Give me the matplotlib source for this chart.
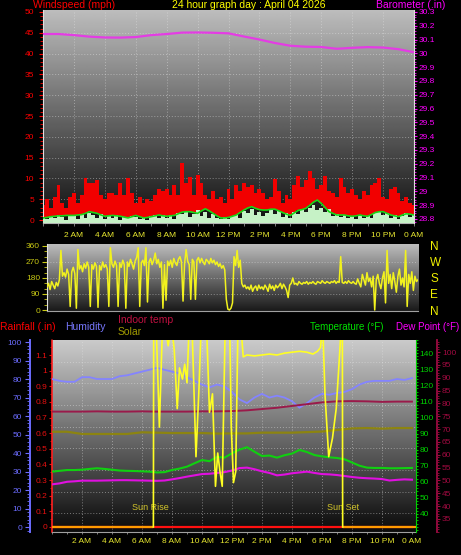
import numpy as np
import matplotlib
matplotlib.use('Agg')
import matplotlib.pyplot as plt
from matplotlib.ticker import MultipleLocator, FixedLocator, FuncFormatter

plt.rcParams['font.family'] = ['Liberation Sans', 'DejaVu Sans']

W, H = 461, 555

# wind, 15 minute samples (mph)
hours_q = np.linspace(0, 24, 97)
gust_mph = [3.5, 5.0, 3.0, 5.5, 8.5, 4.0, 3.0, 5.5, 6.5, 4.0, 6.0, 10.0,
            8.8, 8.8, 9.5, 6.0, 5.0, 6.5, 6.5, 6.0, 8.8, 6.0, 10.2, 6.5,
            4.0, 5.5, 4.0, 5.0, 4.5, 6.0, 7.5, 7.0, 7.5, 6.0, 8.5, 6.0,
            13.6, 9.0, 10.3, 6.0, 10.8, 8.8, 6.0, 5.0, 7.0, 5.0, 5.5, 4.0,
            7.5, 5.0, 8.5, 7.0, 9.0, 8.0, 8.5, 6.5, 7.5, 6.5, 5.0, 5.5,
            9.8, 7.0, 4.0, 6.0, 5.0, 8.5, 10.5, 8.0, 9.5, 11.8, 10.0, 7.5,
            8.5, 10.5, 7.0, 6.5, 5.5, 10.0, 8.0, 6.5, 7.5, 6.0, 5.0, 7.0,
            6.0, 8.5, 9.0, 10.0, 5.5, 5.0, 7.5, 8.0, 6.5, 4.5, 5.5, 4.0, 3.5]
avg_mph = [0.5, 0.6, 0.8, 0.9, 1.0, 1.0, 1.1, 1.1, 1.1, 1.2, 1.3, 1.6,
           2.0, 1.8, 1.6, 1.2, 0.9, 1.0, 1.1, 1.0, 0.9, 0.7, 0.5, 0.8,
           1.1, 0.8, 0.5, 0.6, 0.8, 1.0, 1.2, 1.0, 0.9, 1.0, 1.1, 1.5,
           1.9, 2.0, 2.0, 1.8, 1.6, 2.2, 2.7, 2.2, 1.6, 1.0, 0.5, 0.5,
           0.6, 0.9, 1.2, 1.8, 2.4, 2.9, 3.2, 2.8, 2.5, 2.4, 2.4, 2.6,
           2.6, 2.2, 1.8, 1.4, 1.1, 1.7, 2.3, 2.5, 2.8, 3.5, 4.3, 4.8,
           4.0, 3.0, 2.0, 1.6, 1.2, 1.2, 1.2, 1.0, 0.9, 1.0, 1.2, 1.0,
           0.9, 1.3, 1.8, 2.0, 2.0, 1.6, 1.2, 1.0, 0.8, 1.2, 1.5, 1.4, 1.2]
speed_mph = [0.6, 0.2, 1.0, 0.4, 1.3, 0.7, 0.0, 1.2, 0.9, 0.3, 1.5, 0.5,
             1.8, 1.1, 0.6, 1.4, 0.2, 0.9, 0.5, 1.2, 0.0, 0.8, 0.4, 1.0,
             0.7, 0.2, 0.5, 0.0, 0.9, 1.3, 0.4, 1.1, 0.6, 1.2, 0.3, 1.6,
             1.4, 2.0, 0.8, 1.5, 2.3, 1.0, 2.0, 0.6, 1.4, 0.5, 0.2, 0.8,
             0.3, 0.9, 1.2, 0.5, 2.2, 1.6, 2.6, 1.2, 2.0, 0.9, 1.8, 2.4,
             1.5, 2.2, 0.8, 1.6, 0.6, 2.0, 1.4, 2.6, 2.0, 2.8, 3.6, 2.4,
             3.0, 2.0, 2.6, 1.0, 1.4, 0.7, 1.1, 0.4, 1.0, 0.3, 1.3, 0.6,
             0.9, 0.4, 1.6, 2.0, 1.2, 1.8, 0.5, 1.2, 0.3, 1.0, 1.6, 0.8, 1.2]

# barometer, hourly (in)
hours_h = np.linspace(0, 24, 25)
baro_in = [30.140, 30.140, 30.132, 30.121, 30.115, 30.114, 30.118, 30.132, 30.140,
           30.150, 30.151, 30.149, 30.145, 30.122, 30.100, 30.075, 30.055, 30.048,
           30.046, 30.033, 30.040, 30.045, 30.042, 30.030, 30.008]

# wind direction every 6 minutes (deg), one row per hour
dir_hours = np.linspace(0, 24, 241)
dir_deg = [130, 150, 115, 160, 140, 120, 155, 135, 170, 335,
           190, 210, 185, 230, 200, 20, 215, 240, 205, 10,
           340, 230, 250, 215, 260, 235, 270, 240, 20, 255,
           230, 265, 245, 15, 250, 225, 270, 240, 255, 230,
           20, 350, 260, 240, 275, 250, 20, 265, 240, 280,
           255, 10, 270, 245, 285, 260, 230, 275, 295, 350,
           20, 265, 280, 250, 350, 45, 270, 290, 255, 280,
           320, 260, 285, 240, 270, 10, 255, 55, 275, 250,
           280, 240, 290, 265, 250, 285, 300, 270, 50, 260,
           340, 275, 255, 60, 285, 270, 60, 280, 295, 265,
           290, 270, 255, 285, 275, 260, 290, 265, 280, 255,
           270, 245, 260, 235, 250, 225, 60, 5, 0, 10,
           40, 300, 250, 335, 240, 280, 150, 130, 140, 120,
           130, 115, 140, 105, 125, 135, 110, 140, 120, 130,
           115, 140, 125, 105, 145, 120, 135, 110, 140, 125,
           135, 150, 120, 145, 130, 110, 70, 140, 150, 180,
           145, 150, 140, 160, 150, 145, 155, 150, 160, 145,
           155, 150, 160, 150, 145, 160, 155, 150, 165, 155,
           150, 160, 155, 150, 160, 155, 165, 150, 160, 155,
           300, 155, 150, 160, 150, 165, 155, 150, 160, 150,
           145, 175, 150, 130, 200, 170, 140, 210, 160, 180,
           130, 190, 0, 170, 200, 150, 120, 180, 215, 40,
           335, 150, 200, 120, 210, 160, 100, 190, 230, 140,
           180, 130, 335, 20, 200, 150, 215, 110, 190, 160,
           170]

# half hour samples
hours_half = np.linspace(0, 24, 49)
humidity = [80, 79, 78.5, 78.5, 81, 81, 80, 80, 80, 81.5,
            82, 83, 84, 85, 86, 85, 84, 83, 81, 79,
            77, 75.5, 77, 76, 73, 69, 67, 70, 72, 70,
            71, 70, 68, 64.5, 67, 70, 72, 71.5, 72.5, 73,
            74.5, 77, 78.5, 79, 79, 79, 80, 79.5, 80.5]
temp_f = [66.3, 66.8, 67.3, 67.3, 67.5, 68, 68.4, 68, 67.5, 67,
          66.8, 66.7, 66.5, 66.3, 65.8, 66, 67.3, 68.2, 69.4, 71.5,
          73.5, 72.8, 75.5, 75, 77.7, 80, 81.5, 78.7, 76, 76.3,
          75, 76.5, 77.5, 79.8, 78.5, 76.6, 75.8, 75.2, 74.8, 74,
          72, 70, 68.8, 68.6, 68.6, 68.4, 68.4, 68.5, 68.6]
dew_f = [58.4, 59, 60, 60.3, 60.7, 60.7, 60.7, 60.8, 60.9, 61,
         61, 60.9, 60.8, 60.7, 60.6, 60.8, 61.5, 62.3, 63.2, 64,
         64.8, 65, 65.5, 66, 67, 68.5, 68.8, 67.8, 66.5, 65.5,
         64, 64.5, 65.3, 65.8, 66.3, 65.5, 64.8, 64.6, 64.2, 63.6,
         63, 62.5, 62.2, 62, 61.7, 60.8, 61.2, 61.5, 61.3]

# hourly
indoor_f = [76.8, 76.8, 76.8, 76.9, 76.8, 76.8, 76.9, 76.8, 76.8, 76.8, 76.9, 76.9,
            77.0, 77.3, 77.8, 78.3, 79.0, 79.7, 80.4, 80.8, 80.9, 80.8, 80.6, 80.7, 80.7]
olive_trace = [51.5, 51.5, 50.3, 50.3, 50.3, 50.3, 51.2, 51.0, 50.8, 50.8, 50.8, 50.5,
               50.6, 50.6, 51.0, 51.0, 51.0, 51.3, 51.6, 52.5, 53.3, 53.5, 53.2, 53.5, 53.5]
rain_in = [0.0] * 25

# solar (percent of scale, clipped at top)
solar_hours = [6.76, 6.78, 6.95, 7.16, 7.35, 7.5, 7.75, 7.95, 8.15, 8.35,
               8.5, 8.7, 8.85, 9.0, 9.15, 9.35, 9.6, 9.8, 9.95, 10.3,
               10.5, 10.7, 10.9, 11.05, 11.2, 11.35, 11.55, 11.85, 11.95, 12.1,
               12.25, 12.4, 12.6, 12.75, 13.0, 13.5, 14.0, 14.5, 15.0, 15.5,
               16.0, 16.5, 17.0, 17.4, 17.7, 17.9, 18.05, 18.2, 18.45, 18.7,
               18.95, 19.15, 19.3, 19.36, 19.38]
solar_pct = [0, 110, 108, 54, 105, 110, 98, 110, 96, 64,
             86, 80, 88, 78, 110, 105, 38, 75, 110, 110,
             62, 72, 22, 40, 30, 22, 110, 110, 55, 24,
             30, 110, 108, 92, 93, 92.5, 93, 93.5, 93, 94,
             94.5, 95, 94.5, 93.5, 95, 97, 110, 72, 38, 48,
             64, 90, 110, 110, 0]
sunrise, sunset = 6.76, 19.38

time_ticks = list(range(2, 25, 2))
time_labels = ['2 AM', '4 AM', '6 AM', '8 AM', '10 AM', '12 PM',
               '2 PM', '4 PM', '6 PM', '8 PM', '10 PM', '0 AM']
compass_ticks = [0, 90, 180, 270, 360]
compass_labels = ['N', 'E', 'S', 'W', 'N']


def box(x0, y0, x1, y1):
    # pixel box -> figure fraction rect
    return [x0 / W, 1 - y1 / H, (x1 - x0) / W, (y1 - y0) / H]


def px(n):
    # pixels -> points at 100 dpi
    return n * 0.72


def gradient(ax, top, bottom):
    shade = np.linspace(top, bottom, 200).reshape(-1, 1)
    ax.imshow(shade, cmap='gray', vmin=0, vmax=1, aspect='auto', extent=[0, 1, 0, 1],
              transform=ax.transAxes, zorder=0, interpolation='bilinear')


def plain(v, p):
    return f'{v:.2f}'.rstrip('0').rstrip('.')


grid_kw = dict(color='#e8e8e8', alpha=0.45, linestyle=(0, (1, 2)), linewidth=0.7)

fig = plt.figure(figsize=(W / 100, H / 100), dpi=100, facecolor='black')

# ---------------- wind + barometer ----------------
wind_lo, wind_hi = -0.72, 50.48
ax1 = fig.add_axes(box(43, 10, 414, 223))
gradient(ax1, 0.74, 0.06)
ax1.fill_between(hours_q, avg_mph, gust_mph, step='mid', color='#f20000', lw=0, zorder=2)
ax1.fill_between(hours_q, wind_lo, speed_mph, step='mid', color='#c6f2c6', lw=0, zorder=3)
ax1.plot(hours_q, avg_mph, color='#18d818', lw=1.2, zorder=4)
ax1.set_xlim(0, 24)
ax1.set_ylim(wind_lo, wind_hi)
ax1.yaxis.set_major_locator(MultipleLocator(5))
ax1.yaxis.set_minor_locator(MultipleLocator(1))
ax1.set_xticks(time_ticks)
ax1.set_xticklabels(time_labels)
ax1.xaxis.set_minor_locator(MultipleLocator(1))
for v in range(5, 50, 5):
    ax1.axhline(v, zorder=1, **grid_kw)
for t in time_ticks[:-1]:
    ax1.axvline(t, zorder=1, **grid_kw)
ax1.tick_params(axis='y', which='both', colors='#ff0000', labelsize=6)
ax1.tick_params(axis='y', which='major', length=px(4), width=0.8, pad=px(5))
ax1.tick_params(axis='y', which='minor', length=px(3), width=0.6)
ax1.tick_params(axis='x', which='both', colors='#909090', length=px(3), width=0.6)
ax1.tick_params(axis='x', which='major', labelcolor='#e8e830', labelsize=6, pad=px(6))
ax1.spines['left'].set_color('#e0e0e0')
ax1.spines['bottom'].set_color('#b0b0b0')
ax1.spines['top'].set_visible(False)
ax1.spines['right'].set_visible(False)

ax1b = ax1.twinx()
ax1b.plot(hours_h, baro_in, color='#e43ce4', lw=1.6, zorder=5)
ax1b.set_ylim(28.771, 30.314)
ax1b.yaxis.set_major_locator(MultipleLocator(0.1))
ax1b.yaxis.set_minor_locator(MultipleLocator(0.02))
ax1b.yaxis.set_major_formatter(FuncFormatter(plain))
ax1b.tick_params(axis='y', which='both', colors='#ff00ff', labelsize=6)
ax1b.tick_params(axis='y', which='major', length=px(3), width=0.8, pad=px(2))
ax1b.tick_params(axis='y', which='minor', length=px(2), width=0.6)
for s in ['left', 'top', 'bottom']:
    ax1b.spines[s].set_visible(False)
ax1b.spines['right'].set_color('#e0e0e0')

# ---------------- wind direction ----------------
ax2 = fig.add_axes(box(47, 244, 418, 311))
gradient(ax2, 0.74, 0.10)
ax2.plot(dir_hours, dir_deg, color='#f2f21e', lw=1.1, zorder=3)
ax2.set_xlim(0, 24)
ax2.set_ylim(-5.6, 371)
ax2.set_yticks(compass_ticks)
ax2.yaxis.set_minor_locator(MultipleLocator(30))
ax2.set_xticks([])
for v in compass_ticks[1:-1]:
    ax2.axhline(v, zorder=1, **grid_kw)
ax2.tick_params(axis='y', which='both', colors='#c8c814', labelsize=6)
ax2.tick_params(axis='y', which='major', length=px(5), width=0.8, pad=px(2))
ax2.tick_params(axis='y', which='minor', length=px(3), width=0.6)
ax2.spines['left'].set_color('#e0e0e0')
ax2.spines['bottom'].set_color('#a0a0a0')
ax2.spines['top'].set_visible(False)
ax2.spines['right'].set_visible(False)

ax2c = ax2.twinx()
ax2c.set_ylim(-5.6, 371)
ax2c.set_yticks(compass_ticks)
ax2c.set_yticklabels(compass_labels)
ax2c.tick_params(axis='y', length=0, pad=px(12), labelsize=8.5, labelcolor='#f0f000')
for s in ax2c.spines.values():
    s.set_visible(False)

# ---------------- rain / humidity / temperatures / solar ----------------
ax3 = fig.add_axes(box(52, 340, 416, 532))
gradient(ax3, 0.80, 0.04)
ax3.set_xlim(0, 24.27)
ax3.set_ylim(-0.032, 1.196)
for k in range(8):
    ax3.plot([0, 1], [0.097 + 0.1128 * k] * 2, transform=ax3.transAxes, zorder=1, **grid_kw)
for t in time_ticks[:-1]:
    ax3.axvline(t, zorder=1, **grid_kw)
ax3.plot(hours_h, rain_in, color='#ff1010', lw=1.6, zorder=3)
# night part of the zero line
ax3.hlines([rain_in[0], rain_in[-1]], [0, sunset], [sunrise, 24.27],
           colors='#ff9a00', lw=1.6, zorder=4)
ax3.yaxis.set_major_locator(MultipleLocator(0.1))
ax3.yaxis.set_minor_locator(MultipleLocator(0.05))
ax3.yaxis.set_major_formatter(FuncFormatter(plain))
ax3.set_xticks(time_ticks)
ax3.set_xticklabels(time_labels)
ax3.xaxis.set_minor_locator(MultipleLocator(1))
ax3.tick_params(axis='y', which='both', colors='#e81010', labelsize=6)
ax3.tick_params(axis='y', which='major', length=px(3), width=0.8, pad=px(2))
ax3.tick_params(axis='y', which='minor', length=px(2), width=0.6)
ax3.tick_params(axis='x', which='both', colors='#909090', length=px(2), width=0.6)
ax3.tick_params(axis='x', which='major', labelcolor='#e8e830', labelsize=6, pad=px(4))
ax3.spines['left'].set_color('#ff2020')
ax3.spines['left'].set_linestyle((0, (1, 1)))
ax3.spines['left'].set_linewidth(1.2)
ax3.spines['bottom'].set_color('#a0a0a0')
ax3.spines['top'].set_visible(False)
ax3.spines['right'].set_visible(False)

ax_h = ax3.twinx()
ax_h.yaxis.tick_left()
ax_h.set_ylim(-2.7, 101.1)
ax_h.plot(hours_h, olive_trace, color='#8c8410', lw=1.6, zorder=2)
ax_h.plot(hours_half, humidity, color='#8484ff', lw=1.3, zorder=3)
ax_h.yaxis.set_major_locator(MultipleLocator(10))
ax_h.yaxis.set_minor_locator(MultipleLocator(2))
ax_h.tick_params(axis='y', which='both', colors='#6c6cff', labelsize=6)
ax_h.tick_params(axis='y', which='major', length=px(5), width=0.8, pad=px(3))
ax_h.tick_params(axis='y', which='minor', length=px(3), width=0.6)
for s in ['right', 'top', 'bottom']:
    ax_h.spines[s].set_visible(False)
ax_h.spines['left'].set_position(('axes', (30 - 52) / 364))
ax_h.spines['left'].set_color('#6c6cff')
ax_h.spines['left'].set_linewidth(1.4)

ax_t = ax3.twinx()
ax_t.set_ylim(28.8, 148.1)
ax_t.plot(hours_half, temp_f, color='#10d010', lw=1.5, zorder=3)
ax_t.plot(hours_half, dew_f, color='#e010e0', lw=1.5, zorder=3)
ax_t.yaxis.set_major_locator(FixedLocator(range(40, 141, 10)))
ax_t.yaxis.set_minor_locator(MultipleLocator(2))
ax_t.tick_params(axis='y', which='both', colors='#00d000', labelsize=6)
ax_t.tick_params(axis='y', which='major', length=px(2), width=0.8, pad=px(1.5))
ax_t.tick_params(axis='y', which='minor', length=px(1.5), width=0.6)
for s in ['left', 'top', 'bottom']:
    ax_t.spines[s].set_visible(False)
ax_t.spines['right'].set_color('#00d000')
ax_t.spines['right'].set_linestyle((0, (1, 1)))

ax_i = ax3.twinx()
ax_i.set_ylim(29.9, 104.7)
ax_i.plot(hours_h, indoor_f, color='#9a1a4a', lw=1.4, zorder=3)
ax_i.yaxis.set_major_locator(FixedLocator(range(35, 101, 5)))
ax_i.yaxis.set_minor_locator(MultipleLocator(1))
ax_i.tick_params(axis='y', which='both', colors='#a00a40', labelsize=6)
ax_i.tick_params(axis='y', which='major', length=px(3), width=0.8, pad=px(2))
ax_i.tick_params(axis='y', which='minor', length=px(2), width=0.6)
for s in ['left', 'top', 'bottom']:
    ax_i.spines[s].set_visible(False)
ax_i.spines['right'].set_position(('axes', (437 - 52) / 364))
ax_i.spines['right'].set_color('#900a3c')
ax_i.spines['right'].set_linewidth(1.4)

ax_s = ax3.twinx()
ax_s.set_ylim(-2.7, 101.1)
ax_s.plot(solar_hours, solar_pct, color='#ffff22', lw=1.2, zorder=5)
ax_s.text(sunrise - 0.2, 10.3, 'Sun Rise', color='#d2c42a', fontsize=6.5, ha='center', va='center')
ax_s.text(sunset, 10.3, 'Sun Set', color='#d2c42a', fontsize=6.5, ha='center', va='center')
ax_s.yaxis.set_visible(False)
for s in ax_s.spines.values():
    s.set_visible(False)

# ---------------- header texts ----------------
def label(x, y, s, color, ha='left', size=7.5):
    fig.text(x / W, 1 - y / H, s, color=color, ha=ha, va='center', fontsize=size)


label(33, 5.5, 'Windspeed (mph)', '#ff0000')
label(249, 5.5, '24 hour graph day : April 04 2026', '#ffff00', ha='center')
label(445, 5, 'Barometer (.in)', '#ff00ff', ha='right')
label(0, 327, 'Rainfall (.in)', '#ff0000')
label(65, 327, 'Humidity', '#7878ff')
label(118, 320, 'Indoor temp', '#c01040')
label(118, 332, 'Solar', '#a09a00')
label(310, 327, 'Temperature (\u00b0F)', '#00e000', size=7)
label(459, 327, 'Dew Point (\u00b0F)', '#ff00ff', ha='right', size=7)

fig.savefig('out.png', dpi=100, facecolor='black')
